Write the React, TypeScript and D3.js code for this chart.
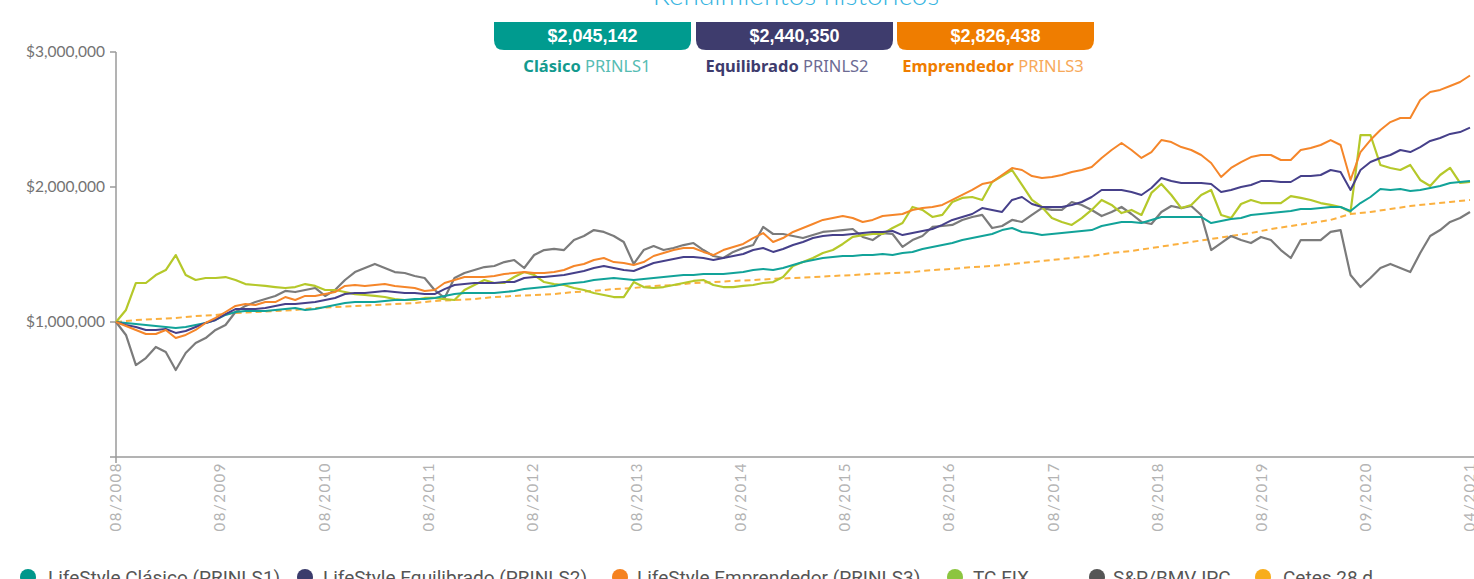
import React from "react";
import * as d3 from "d3";

// Values in thousands of pesos, sampled evenly from 08/2008 to 04/2021
const clasico = [1000,993,985,978,970,963,956,963,978,993,1015,1052,1074,1081,1081,1081,1089,1096,1104,1089,1096,1111,1126,1141,1148,1148,1148,1156,1163,1163,1170,1170,1178,1193,1207,1215,1215,1215,1215,1222,1230,1244,1252,1259,1267,1281,1289,1296,1311,1319,1326,1319,1311,1319,1326,1333,1341,1348,1348,1356,1356,1356,1363,1370,1385,1393,1385,1400,1422,1444,1459,1474,1481,1489,1489,1496,1496,1504,1496,1511,1519,1541,1556,1570,1585,1607,1622,1637,1652,1681,1696,1667,1659,1644,1652,1659,1667,1674,1681,1711,1726,1741,1741,1733,1756,1778,1778,1778,1778,1778,1733,1748,1763,1770,1793,1800,1807,1815,1822,1837,1837,1844,1852,1852,1822,1881,1926,1985,1978,1985,1970,1978,1993,2007,2030,2037,2045];
const equilibrado = [1000,978,963,941,941,948,919,933,963,993,1015,1059,1096,1096,1096,1104,1119,1133,1133,1141,1148,1163,1178,1207,1215,1215,1222,1230,1222,1215,1215,1207,1207,1244,1274,1281,1289,1289,1289,1296,1296,1326,1333,1333,1341,1348,1363,1378,1400,1415,1400,1385,1378,1407,1437,1452,1467,1481,1481,1474,1459,1474,1489,1504,1533,1548,1519,1541,1570,1593,1622,1637,1644,1644,1652,1659,1667,1667,1674,1644,1659,1674,1689,1719,1756,1778,1800,1844,1830,1815,1904,1926,1874,1852,1852,1852,1867,1889,1926,1978,1978,1978,1963,1941,1993,2067,2044,2030,2030,2030,2022,1963,1978,2000,2015,2044,2044,2037,2037,2081,2081,2089,2126,2111,1978,2126,2185,2215,2237,2274,2259,2296,2341,2363,2393,2407,2440];
const emprendedor = [1000,970,941,911,911,941,881,904,941,993,1030,1074,1119,1133,1126,1148,1148,1185,1163,1193,1193,1207,1222,1267,1274,1267,1274,1281,1267,1259,1252,1230,1237,1289,1311,1333,1333,1333,1341,1356,1363,1370,1363,1363,1370,1385,1415,1430,1459,1474,1444,1437,1422,1444,1489,1511,1533,1548,1548,1519,1496,1533,1556,1578,1622,1659,1593,1622,1667,1696,1726,1756,1770,1785,1770,1741,1756,1785,1793,1800,1830,1844,1852,1867,1904,1941,1978,2022,2037,2089,2141,2126,2081,2067,2074,2089,2111,2126,2148,2215,2274,2326,2274,2215,2259,2348,2333,2296,2274,2237,2178,2074,2141,2185,2222,2237,2237,2200,2200,2274,2289,2311,2348,2311,2052,2259,2348,2422,2481,2511,2511,2644,2704,2719,2748,2778,2826];
const tcFix = [1000,1089,1289,1289,1348,1385,1496,1348,1311,1326,1326,1333,1311,1281,1274,1267,1259,1252,1259,1281,1267,1237,1237,1222,1207,1200,1193,1185,1170,1163,1163,1178,1178,1170,1163,1237,1274,1311,1289,1289,1333,1370,1348,1296,1281,1274,1252,1237,1215,1200,1185,1185,1296,1259,1252,1259,1274,1289,1304,1311,1274,1259,1259,1267,1274,1289,1296,1333,1415,1444,1474,1511,1533,1578,1630,1644,1652,1652,1696,1733,1852,1830,1778,1793,1889,1919,1926,1904,2037,2081,2126,2015,1904,1852,1770,1741,1719,1770,1830,1904,1867,1807,1830,1793,1956,2022,1941,1844,1867,1941,1978,1793,1770,1874,1904,1881,1881,1881,1933,1919,1904,1881,1867,1852,1815,2385,2385,2163,2141,2126,2163,2052,2007,2089,2141,2030,2037];
const ipc = [1000,904,681,733,815,778,644,770,844,881,941,978,1074,1119,1148,1170,1193,1230,1222,1237,1252,1193,1237,1311,1370,1400,1430,1400,1370,1363,1341,1326,1237,1178,1326,1363,1385,1407,1415,1444,1459,1400,1496,1533,1541,1533,1607,1637,1681,1667,1637,1593,1430,1533,1563,1533,1548,1570,1585,1533,1489,1474,1519,1548,1570,1704,1652,1652,1637,1622,1644,1667,1674,1681,1689,1630,1607,1659,1652,1556,1607,1637,1704,1711,1719,1756,1778,1793,1696,1711,1756,1741,1793,1844,1830,1830,1889,1867,1830,1785,1815,1852,1800,1741,1726,1815,1859,1844,1859,1793,1533,1585,1637,1607,1585,1630,1607,1533,1474,1607,1607,1607,1667,1681,1348,1259,1326,1400,1430,1400,1370,1511,1637,1681,1741,1770,1815];
const cetes = [1000,1015,1022,1030,1044,1052,1067,1074,1081,1089,1104,1111,1119,1126,1133,1141,1156,1163,1170,1185,1193,1200,1207,1222,1230,1244,1252,1267,1274,1289,1296,1304,1311,1319,1326,1333,1341,1348,1356,1363,1370,1385,1393,1407,1415,1430,1444,1459,1474,1489,1511,1526,1548,1570,1593,1615,1637,1659,1689,1711,1733,1756,1800,1815,1837,1859,1874,1889,1904];

const xTickLabels = ["08/2008","08/2009","08/2010","08/2011","08/2012","08/2013","08/2014","08/2015","08/2016","08/2017","08/2018","08/2019","09/2020","04/2021"];
const yTicks = [1000, 2000, 3000];

const boxValues = ["$2,045,142", "$2,440,350", "$2,826,438"];
const boxNames = ["Clásico", "Equilibrado", "Emprendedor"];
const boxCodes = ["PRINLS1", "PRINLS2", "PRINLS3"];

const legendNames = ["LifeStyle Clásico (PRINLS1)", "LifeStyle Equilibrado (PRINLS2)", "LifeStyle Emprendedor (PRINLS3)", "TC FIX", "S&P/BMV IPC", "Cetes 28 d"];

const W = 1474, H = 579;

export default function App() {
  const x = d3.scaleLinear().domain([0, 1]).range([116, 1470]);
  const y = d3.scaleLinear().domain([0, 3000]).range([457, 52]);
  const mkLine = (n: number) => d3.line<number>().x((_, i) => x(i / (n - 1))).y((d) => y(d));
  const fmt = (v: number) => "$" + d3.format(",")(v * 1000);

  const series = [
    { data: cetes, color: "#fbb03f", dash: "6,4", w: 2 },
    { data: ipc, color: "#7b7b7b", dash: undefined, w: 2.2 },
    { data: tcFix, color: "#b5c82a", dash: undefined, w: 2.2 },
    { data: clasico, color: "#12a399", dash: undefined, w: 2 },
    { data: equilibrado, color: "#46408a", dash: undefined, w: 2 },
    { data: emprendedor, color: "#f5862a", dash: undefined, w: 2 },
  ];

  const boxes = [
    { x0: 494, color: "#009b8f", nameColor: "#139a8e", codeColor: "#56bcb3", cx: 587 },
    { x0: 696, color: "#3e3c6d", nameColor: "#3e3c6d", codeColor: "#6d6b93", cx: 787 },
    { x0: 897, color: "#ef7d00", nameColor: "#ef7d00", codeColor: "#f7a95a", cx: 993 },
  ];
  const bw = 197, by = 22, bh = 28, r = 10;
  const boxPath = (x0: number) =>
    `M${x0},${by}H${x0 + bw}V${by + bh - r}Q${x0 + bw},${by + bh} ${x0 + bw - r},${by + bh}H${x0 + r}Q${x0},${by + bh} ${x0},${by + bh - r}Z`;

  const legend = [
    { cx: 28, tx: 48, color: "#00978b" },
    { cx: 305, tx: 323, color: "#3b3c6c" },
    { cx: 620, tx: 637, color: "#f58220" },
    { cx: 955, tx: 973, color: "#8cc540" },
    { cx: 1097, tx: 1113, color: "#555555" },
    { cx: 1263, tx: 1283, color: "#f8ad1c" },
  ];

  return (
    <svg width={W} height={H} style={{ position: "absolute", left: 0, top: 0, background: "#fff" }}>
      <text x={796} y={5} textAnchor="middle" fill="#36b4df" fontFamily="Lato, sans-serif" fontWeight={300} fontSize={28}>Rendimientos históricos</text>
      {boxes.map((b, i) => (
        <g key={i}>
          <path d={boxPath(b.x0)} fill={b.color} />
          <text x={b.x0 + bw / 2} y={by + bh / 2 + 6} textAnchor="middle" fill="#fff" fontFamily="Liberation Sans, Arial, sans-serif" fontWeight="bold" fontSize={18}>{boxValues[i]}</text>
          <text x={b.cx} y={72} textAnchor="middle" fontFamily="Noto Sans, sans-serif" fontSize={16.5}>
            <tspan fill={b.nameColor} fontWeight="bold">{boxNames[i]}</tspan>
            <tspan fill={b.codeColor}> {boxCodes[i]}</tspan>
          </text>
        </g>
      ))}
      {/* y axis */}
      <line x1={116} x2={116} y1={52} y2={463} stroke="#9a9a9a" strokeWidth={1.5} />
      <line x1={110} x2={116} y1={457} y2={457} stroke="#9a9a9a" strokeWidth={1.5} />
      {yTicks.map((t) => (
        <g key={t}>
          <line x1={110} x2={116} y1={y(t)} y2={y(t)} stroke="#9a9a9a" strokeWidth={1.5} />
          <text x={105} y={y(t)} dy="0.35em" textAnchor="end" fill="#737373" fontFamily="Lato, sans-serif" fontSize={15.5}>{fmt(t)}</text>
        </g>
      ))}
      {/* x axis */}
      <line x1={116} x2={1474} y1={457} y2={457} stroke="#9a9a9a" strokeWidth={1.5} />
      {xTickLabels.map((lab, k) => {
        const px = x(k / (xTickLabels.length - 1));
        return (
          <text key={lab} transform={`translate(${px},462) rotate(-90)`} dy="0.35em" textAnchor="end" fill="#b3b3b3" fontFamily="Lato, sans-serif" fontSize={15} letterSpacing={1.5}>{lab}</text>
        );
      })}
      {/* lines */}
      {series.map((s, i) => (
        <path key={i} d={mkLine(s.data.length)(s.data) || ""} fill="none" stroke={s.color} strokeWidth={s.w} strokeDasharray={s.dash} strokeLinejoin="round" />
      ))}
      {/* legend */}
      {legend.map((l, i) => (
        <g key={i}>
          <circle cx={l.cx} cy={577} r={8} fill={l.color} />
          <text x={l.tx} y={584} fill="#555" fontFamily="Roboto, sans-serif" fontSize={19}>{legendNames[i]}</text>
        </g>
      ))}
    </svg>
  );
}
